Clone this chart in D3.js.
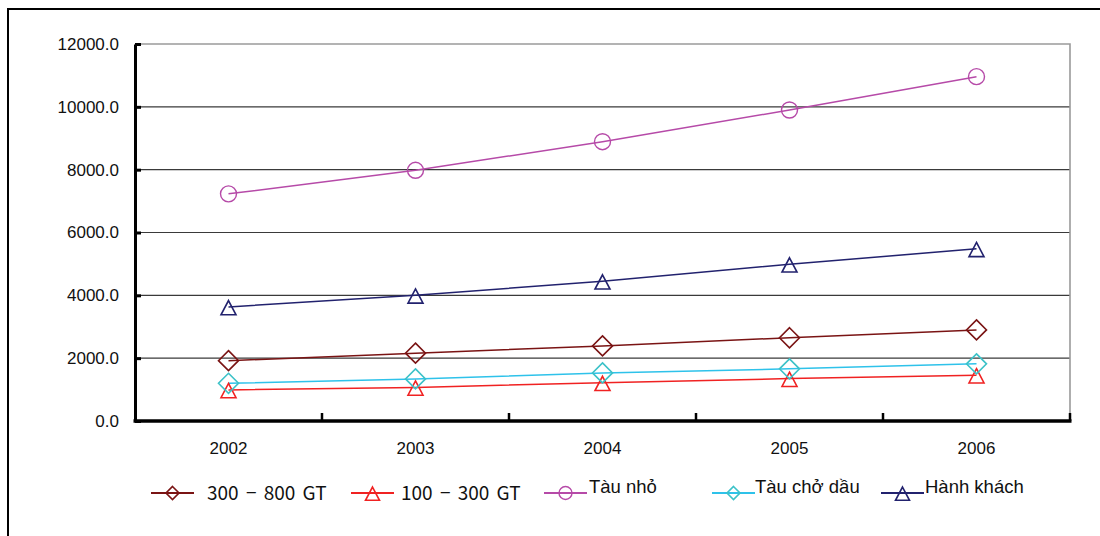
<!DOCTYPE html>
<html>
<head>
<meta charset="utf-8">
<script src="https://cdn.jsdelivr.net/npm/d3@7"></script>
<style>
  html, body { margin: 0; padding: 0; background: #fff; }
  svg { display: block; }
</style>
</head>
<body>
<svg id="chart" width="1100" height="536"></svg>
<script>
// Years on the category axis
const years = ["2002", "2003", "2004", "2005", "2006"];
const yTicks = [0, 2000, 4000, 6000, 8000, 10000, 12000];

// Series values by year
const gt300to800 = [1920, 2160, 2390, 2650, 2900];
const gt100to300 = [990, 1070, 1220, 1350, 1460];
const tauNho = [7230, 7980, 8890, 9900, 10960];
const tauChoDau = [1200, 1340, 1530, 1660, 1820];
const hanhKhach = [3630, 4000, 4450, 4990, 5480];

const seriesNames = ["300 − 800 GT", "100 − 300 GT", "Tàu nhỏ", "Tàu chở dầu", "Hành khách"];

const series = [
  { name: seriesNames[0], values: gt300to800, line: "#7a1414", mark: "#7a1414", shape: "diamond", cjk: true },
  { name: seriesNames[1], values: gt100to300, line: "#f02222", mark: "#f02222", shape: "triangle", cjk: true },
  { name: seriesNames[2], values: tauNho, line: "#b64aa8", mark: "#b64aa8", shape: "circle" },
  { name: seriesNames[3], values: tauChoDau, line: "#2ec2ea", mark: "#3cc2c8", shape: "diamond" },
  { name: seriesNames[4], values: hanhKhach, line: "#22226e", mark: "#22226e", shape: "triangle" }
];

const svg = d3.select("#chart");
const plotLeft = 135, plotRight = 1070, plotTop = 44, plotBottom = 421;

const x = d3.scaleBand().domain(years).range([plotLeft, plotRight]);
const y = d3.scaleLinear().domain([0, 12000]).range([plotBottom, plotTop]);

// Outer frame (runs off the right and bottom edges)
svg.append("rect")
  .attr("x", 8).attr("y", 9).attr("width", 1120).attr("height", 560)
  .attr("fill", "none").attr("stroke", "#000").attr("stroke-width", 2);

// Horizontal gridlines
svg.append("g").selectAll("line")
  .data(yTicks.filter(d => d > 0 && d < 12000))
  .join("line")
  .attr("x1", plotLeft).attr("x2", plotRight)
  .attr("y1", d => y(d)).attr("y2", d => y(d))
  .attr("stroke", "#3a3a3a").attr("stroke-width", 1.2);

// Plot area border (top and right)
svg.append("path")
  .attr("d", `M${plotLeft},${y(12000)}H${plotRight}V${plotBottom}`)
  .attr("fill", "none").attr("stroke", "#9a9a9a").attr("stroke-width", 1.6);

// Y axis
const yAxis = d3.axisLeft(y)
  .tickValues(yTicks)
  .tickFormat(d3.format(".1f"))
  .tickSizeInner(-6).tickSizeOuter(0)
  .tickPadding(16);
const gy = svg.append("g").attr("transform", `translate(${plotLeft},0)`).call(yAxis);
gy.select(".domain").attr("stroke", "#000").attr("stroke-width", 3);
gy.selectAll(".tick line").attr("stroke", "#000").attr("stroke-width", 3);
gy.selectAll(".tick text")
  .attr("font-family", "Liberation Sans, Arial, sans-serif")
  .attr("font-size", 17).attr("fill", "#111");

// X axis labels at band centres
const xAxis = d3.axisBottom(x).tickSize(0).tickPadding(21);
const gx = svg.append("g").attr("transform", `translate(0,${plotBottom})`).call(xAxis);
gx.select(".domain").remove();
gx.selectAll(".tick text")
  .attr("font-family", "Liberation Sans, Arial, sans-serif")
  .attr("font-size", 17).attr("fill", "#111");

// X axis line with tick marks between categories
const bounds = years.map(d => x(d) + x.bandwidth());
svg.append("line")
  .attr("x1", plotLeft - 1.5).attr("x2", plotRight + 1.5)
  .attr("y1", plotBottom).attr("y2", plotBottom)
  .attr("stroke", "#000").attr("stroke-width", 3.5);
svg.append("g").selectAll("line")
  .data(bounds)
  .join("line")
  .attr("x1", d => d).attr("x2", d => d)
  .attr("y1", plotBottom - 8).attr("y2", plotBottom)
  .attr("stroke", "#000").attr("stroke-width", 2.5);

// Hollow markers: circle, diamond, triangle
function drawMarker(g, shape, cx, cy, color, size) {
  if (shape === "circle") {
    g.append("circle").attr("cx", cx).attr("cy", cy).attr("r", size)
      .attr("fill", "none").attr("stroke", color).attr("stroke-width", 1.4);
  } else if (shape === "diamond") {
    g.append("path")
      .attr("d", `M${cx},${cy - size}L${cx + size},${cy}L${cx},${cy + size}L${cx - size},${cy}Z`)
      .attr("fill", "none").attr("stroke", color).attr("stroke-width", 1.6);
  } else {
    const w = size, h = size * 1.9;
    g.append("path")
      .attr("d", `M${cx},${cy - h * 0.45}L${cx + w},${cy + h * 0.55}L${cx - w},${cy + h * 0.55}Z`)
      .attr("fill", "none").attr("stroke", color).attr("stroke-width", 1.6);
  }
}

const lineGen = d3.line()
  .x((d, i) => x(years[i]) + x.bandwidth() / 2)
  .y(d => y(d));

const plot = svg.append("g");
series.forEach(s => {
  plot.append("path")
    .attr("d", lineGen(s.values))
    .attr("fill", "none").attr("stroke", s.line).attr("stroke-width", 1.5);
});
series.forEach(s => {
  const g = plot.append("g");
  s.values.forEach((v, i) => {
    const cx = x(years[i]) + x.bandwidth() / 2, cy = y(v);
    const size = s.shape === "circle" ? 8 : s.shape === "diamond" ? 10 : 7.5;
    drawMarker(g, s.shape, cx, cy, s.mark, size);
  });
});

// Legend
const legendItems = [
  { lx: 151, tx: 207, ty: 500 },
  { lx: 351, tx: 401, ty: 500 },
  { lx: 544, tx: 589, ty: 493 },
  { lx: 712, tx: 755, ty: 493 },
  { lx: 881, tx: 925, ty: 493 }
];
const legend = svg.append("g");
series.forEach((s, i) => {
  const it = legendItems[i];
  const ly = 493;
  legend.append("line")
    .attr("x1", it.lx).attr("x2", it.lx + 43)
    .attr("y1", ly).attr("y2", ly)
    .attr("stroke", s.line).attr("stroke-width", 2);
  const size = s.shape === "circle" ? 6.5 : s.shape === "diamond" ? 6.5 : 7;
  drawMarker(legend, s.shape, it.lx + 21.5, ly, s.mark, size);
  legend.append("text")
    .attr("x", it.tx).attr("y", it.ty)
    .attr("font-family", s.cjk ? "Noto Sans CJK JP, sans-serif" : "Liberation Sans, Arial, sans-serif")
    .attr("font-size", s.cjk ? 19 : 18.5)
    .attr("word-spacing", s.cjk ? 3 : 0)
    .attr("fill", "#111")
    .text(s.name);
});
</script>
</body>
</html>
